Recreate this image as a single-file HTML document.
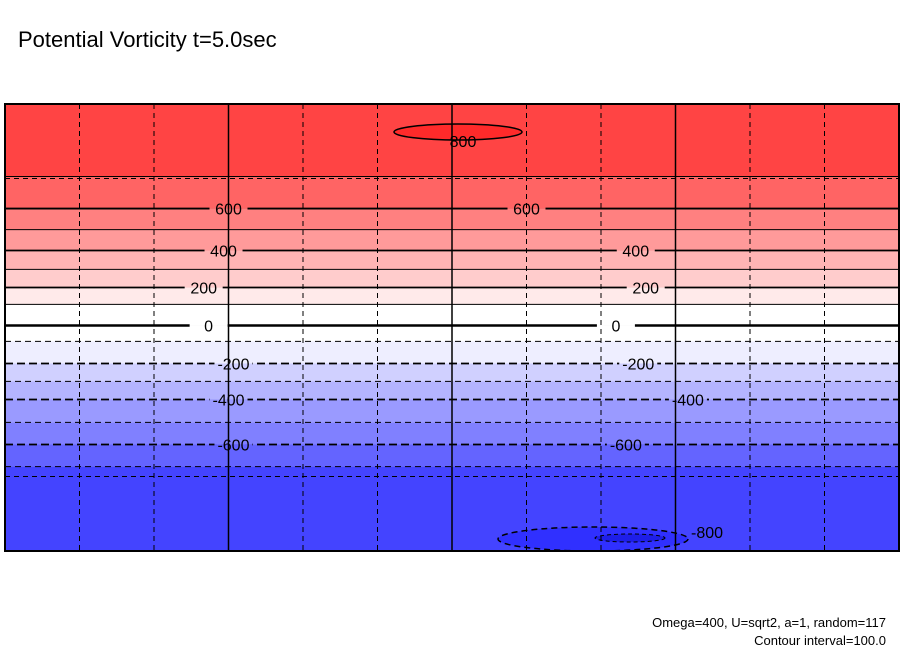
<!DOCTYPE html>
<html><head><meta charset="utf-8"><style>
body{margin:0;background:#fff;width:904px;height:654px;overflow:hidden;font-family:"Liberation Sans",sans-serif}
</style></head><body>
<svg width="904" height="654" xmlns="http://www.w3.org/2000/svg">
<text x="18" y="47" font-size="22" font-family="Liberation Sans, sans-serif">Potential Vorticity t=5.0sec</text>
<g id="plot"></g>
<text x="886" y="627" font-size="13" text-anchor="end" font-family="Liberation Sans, sans-serif">Omega=400, U=sqrt2, a=1, random=117</text>
<text x="886" y="645" font-size="13" text-anchor="end" font-family="Liberation Sans, sans-serif">Contour interval=100.0</text>
</svg>
<script>
const levels=[700,600,500,400,300,200,100,0,-100,-200,-300,-400,-500,-600,-700];
const levelLat=[60.8,47.9,39.4,31,23.4,16.1,9.3,0.8,-5.6,-14.5,-21.7,-29,-38.2,-47.1,-56];
const bandColors=["#ff4444","#ff6464","#ff8080","#ff9a9a","#ffb4b4","#ffcccc","#ffeaea","#ffffff","#ffffff","#eeeeff","#d0d0ff","#b4b4ff","#9a9aff","#8080ff","#6464ff","#4444ff"];
const labelLevels=[600,400,200,0,-200,-400,-600];
const labelLon=[[90,210],[88,254],[80,258],[82,246],[92,255],[90,275],[92,250]];
const gridLon=[30,60,90,120,150,180,210,240,270,300,330];
const gridLat=[60,-60];
const L=5,R=899,T=104,B=551;
const xs=lon=>L+(R-L)*lon/360, ys=lat=>T+(B-T)*(90-lat)/180;
const NS="http://www.w3.org/2000/svg";
const g=document.getElementById('plot');
function mk(t,a){const e=document.createElementNS(NS,t);for(const k in a)e.setAttribute(k,a[k]);g.appendChild(e);return e;}
let prev=T;
for(let i=0;i<=levels.length;i++){
  const y=i<levels.length?ys(levelLat[i]):B;
  const r=mk('rect',{x:L,y:prev,width:R-L,height:y-prev,fill:bandColors[i]});
  
  
  prev=y;
}
let e1=mk('ellipse',{cx:458,cy:132,rx:64,ry:8,fill:"#ff2a2a",stroke:"#000","stroke-width":1.5});


let e2=mk('ellipse',{cx:593,cy:539,rx:95,ry:12,fill:"#3030ff",stroke:"#000","stroke-width":1.5,"stroke-dasharray":"6 4"});


let e3=mk('ellipse',{cx:630,cy:538,rx:35,ry:4,fill:"#1e1ee8",stroke:"#000","stroke-width":1,"stroke-dasharray":"4 3"});


levels.forEach((lv,i)=>{
  const y=ys(levelLat[i]);
  const thick=lv%200===0;
  const a={x1:L,x2:R,y1:y,y2:y,stroke:"#000","stroke-width":thick?(lv===0?2.5:1.8):1};
  if(lv<0)a["stroke-dasharray"]=thick?"8 4":"6 4";
  const l=mk('line',a);
  
  
});
labelLevels.forEach((lv,i)=>{
  const idx=levels.indexOf(lv);
  const y=ys(levelLat[idx]);
  labelLon[i].forEach(lon=>{
    const x=xs(lon);
    const r1=mk('rect',{x:x-19,y:y-3,width:38,height:3,fill:bandColors[idx]});
    
    
    const r2=mk('rect',{x:x-19,y:y,width:38,height:3,fill:bandColors[idx+1]});
    
    
    const t=mk('text',{x:x,y:y+6,"font-size":16,"text-anchor":"middle","font-family":"Liberation Sans, sans-serif"});
    t.textContent=lv<0?'-'+(-lv):String(lv);
    
    
  });
});
let t8=mk('text',{x:463,y:147,"font-size":16,"text-anchor":"middle"});t8.textContent="800";


let t9=mk('text',{x:707,y:538,"font-size":16,"text-anchor":"middle"});t9.textContent="-800";


gridLon.forEach(lon=>{
  const x=xs(lon);const solid=lon%90===0;
  const a={x1:x,x2:x,y1:T,y2:B,stroke:"#000","stroke-width":solid?1.5:1};
  if(!solid)a["stroke-dasharray"]="5 4";
  const l=mk('line',a);
  
  
});
gridLat.forEach(lat=>{
  const y=ys(lat);
  const l=mk('line',{x1:L,x2:R,y1:y,y2:y,stroke:"#000","stroke-width":1,"stroke-dasharray":"5 4"});
  
  
});
const fr=mk('rect',{x:L,y:T,width:R-L,height:B-T,fill:"none",stroke:"#000","stroke-width":2});


</script>
</body></html>
